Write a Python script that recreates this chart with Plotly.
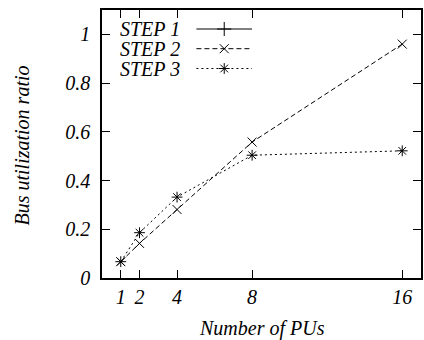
import plotly.graph_objects as go

pus = [1, 2, 4, 8, 16]
step1 = [None, None, None, None, None]
step2 = [0.067, 0.142, 0.281, 0.558, 0.96]
step3 = [0.067, 0.186, 0.332, 0.504, 0.522]
x_ticks = [1, 2, 4, 8, 16]
y_ticks = [0, 0.2, 0.4, 0.6, 0.8, 1]
y_tick_labels = ["0", "0.2", "0.4", "0.6", "0.8", "1"]
names = ["STEP 1", "STEP 2", "STEP 3"]

FONT = "Liberation Serif, Times New Roman, serif"
fs = 20

L, R, T, B, W, H = 102, 1, 10, 62, 424, 340
PW, PH = W - L - R, H - T - B


def px(xp):
    return (xp - L) / PW


def py(yp):
    return (H - B - yp) / PH


series = [
    (names[0], step1, "solid", "cross-thin-open", 10),
    (names[1], step2, "5px,3px", "x-thin-open", 9),
    (names[2], step3, "2px,3px", "asterisk-open", 9),
]

fig = go.Figure()
for name, ys, dash, sym, ms in series:
    fig.add_trace(go.Scatter(
        x=pus, y=ys, mode="lines+markers", name=name,
        line=dict(color="black", width=1, dash=dash),
        marker=dict(symbol=sym, size=ms, color="black", line=dict(color="black", width=1)),
        showlegend=False, cliponaxis=False,
    ))

# manual gnuplot-style key on an overlay axis in pixel-like units
key_y = [29, 48.7, 68.5]
for (name, ys, dash, sym, ms), ky in zip(series, key_y):
    fig.add_trace(go.Scatter(
        x=[197, 225, 253], y=[ky, ky, ky], mode="lines",
        line=dict(color="black", width=1, dash=dash),
        xaxis="x2", yaxis="y2", showlegend=False, hoverinfo="skip",
    ))
    fig.add_trace(go.Scatter(
        x=[225], y=[ky], mode="markers",
        marker=dict(symbol=sym, size=ms, color="black", line=dict(color="black", width=1)),
        xaxis="x2", yaxis="y2", showlegend=False, hoverinfo="skip",
    ))
    fig.add_annotation(x=px(183), y=py(ky), xref="paper", yref="paper", text=name, showarrow=False,
                       xanchor="right", yanchor="middle",
                       font=dict(family=FONT, size=fs, color="black", style="italic"))

axis_common = dict(
    showgrid=False, zeroline=False, showline=True, linecolor="black", linewidth=1.5,
    mirror="ticks", ticks="inside", ticklen=8, tickcolor="black", tickwidth=1,
    tickfont=dict(family=FONT, size=fs, color="black", style="italic"),
)

fig.update_layout(
    width=W, height=H,
    margin=dict(l=L, r=R, t=T, b=B),
    paper_bgcolor="white", plot_bgcolor="white",
    xaxis=dict(range=[0, 17], tickvals=x_ticks, ticktext=[str(v) for v in x_ticks], **axis_common),
    yaxis=dict(range=[0, 1.1], tickvals=y_ticks, ticktext=y_tick_labels, ticklabelstandoff=6,
               **axis_common),
    xaxis2=dict(overlaying="x", range=[L, W - R], visible=False, fixedrange=True),
    yaxis2=dict(overlaying="y", range=[H - B, T], visible=False, fixedrange=True),
    showlegend=False,
)

fig.add_annotation(x=px(262.5), y=py(328), xref="paper", yref="paper", text="Number of PUs",
                   showarrow=False, xanchor="center", yanchor="middle",
                   font=dict(family=FONT, size=fs, color="black", style="italic"))
fig.add_annotation(x=px(22), y=py(145), xref="paper", yref="paper", text="Bus utilization ratio",
                   showarrow=False, textangle=-90, xanchor="center", yanchor="middle",
                   font=dict(family=FONT, size=fs, color="black", style="italic"))

fig.write_html("out.html", config={"displayModeBar": False},
               post_script="document.body.style.margin='0';document.body.style.overflow='hidden';")
